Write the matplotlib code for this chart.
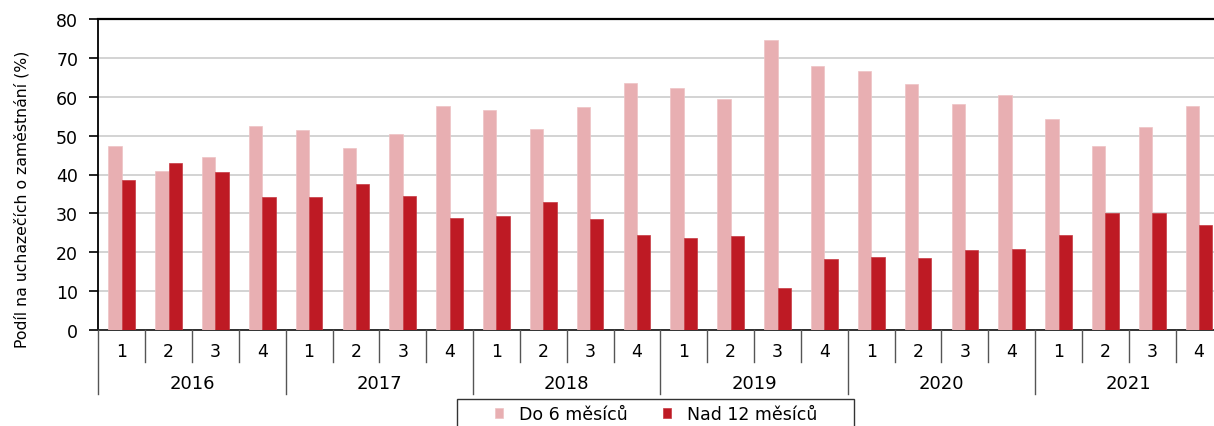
import matplotlib
matplotlib.use("Agg")
import matplotlib.pyplot as plt
from matplotlib.patches import Rectangle
import numpy as np

years = ["2016", "2017", "2018", "2019", "2020", "2021"]
quarters = ["1", "2", "3", "4"]
do6 = [47.3, 40.8, 44.5, 52.5,
       51.5, 46.7, 50.5, 57.6,
       56.6, 51.6, 57.3, 63.5,
       62.2, 59.5, 74.7, 68.0,
       66.6, 63.4, 58.1, 60.4,
       54.2, 47.4, 52.2, 57.7]
nad12 = [38.5, 42.9, 40.6, 34.2,
         34.3, 37.5, 34.4, 28.7,
         29.2, 32.9, 28.5, 24.4,
         23.6, 24.2, 10.7, 18.3,
         18.7, 18.5, 20.5, 20.8,
         24.4, 30.0, 30.2, 27.0]
series_names = ["Do 6 měsíců", "Nad 12 měsíců"]
yticks = [0, 10, 20, 30, 40, 50, 60, 70, 80]
ylabel = "Podíl na uchazečích o zaměstnání (%)"

plt.rcParams["font.family"] = ["DejaVu Sans"]

W, H = 1214, 427
fig = plt.figure(figsize=(W / 100, H / 100), dpi=100)
left_px, right_px, top_px, bot_px = 98.3, 1222.5, 20, 331
ax = fig.add_axes([left_px / W, 1 - bot_px / H, (right_px - left_px) / W, (bot_px - top_px) / H])

pink = "#E8AFB2"
red = "#BE1A24"
n = len(do6)
x = np.arange(n) + 0.5
bw = 0.285
b1 = ax.bar(x - bw / 2, do6, width=bw, color=pink, edgecolor="#EEC3C5", linewidth=0.5, label=series_names[0], zorder=3)
b2 = ax.bar(x + bw / 2, nad12, width=bw, color=red, edgecolor="#C63A42", linewidth=0.5, label=series_names[1], zorder=3)

ax.set_xlim(0, n)
ax.set_ylim(0, 80)
ax.set_yticks(yticks)
ax.set_yticklabels([str(v) for v in yticks], fontsize=12.5)
ax.tick_params(axis="y", length=6.5, width=1.2, pad=8, color="black")
ax.set_xticks([])
ax.grid(axis="y", color="#C8C8C8", linewidth=1.1, zorder=0)
ax.set_axisbelow(True)

for s in ["right"]:
    ax.spines[s].set_visible(False)
ax.spines["top"].set_linewidth(1.6)
ax.spines["top"].set_color("black")
ax.spines["left"].set_linewidth(1.3)
ax.spines["left"].set_color("black")
ax.spines["bottom"].set_linewidth(1.3)
ax.spines["bottom"].set_color("#222222")

trans = ax.get_xaxis_transform()
for i in range(n + 1):
    yend = -0.206 if i % 4 == 0 else -0.104
    ax.plot([i, i], [0, yend], transform=trans, color="#555555", linewidth=1.0, clip_on=False, zorder=4)

for i in range(n):
    ax.text(i + 0.5, -0.0675, quarters[i % 4], transform=trans, ha="center", va="center", fontsize=12.5)
for j, yr in enumerate(years):
    ax.text(j * 4 + 2, -0.170, yr, transform=trans, ha="center", va="center", fontsize=13)

fig.text(22 / W, 1 - 199 / H, ylabel, rotation=90, ha="center", va="center", fontsize=11.3)

# legend frame
fig.patches.append(Rectangle((457 / W, -0.05), (854 - 457) / W, 0.05 + (1 - 400 / H),
                             transform=fig.transFigure, fill=False, edgecolor="#333333", linewidth=1.0))
leg = fig.legend(handles=[b1, b2], loc="center", bbox_to_anchor=(656 / W, 1 - 415 / H),
                 ncol=2, frameon=False, fontsize=12.5, handlelength=0.5, handleheight=0.5,
                 handletextpad=0.9, columnspacing=2.0, borderpad=0)

fig.savefig("out.png", dpi=100)
